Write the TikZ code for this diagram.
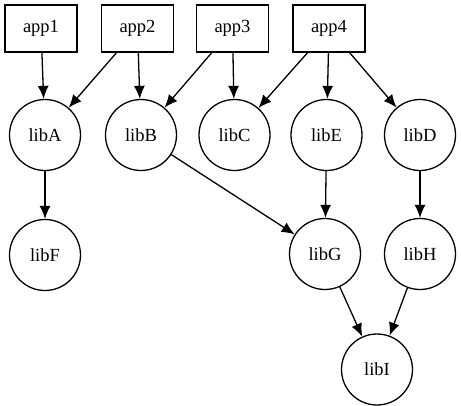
\documentclass[tikz,border=0pt]{standalone}
\usepackage{fontspec}
\setmainfont{Liberation Serif}
\usetikzlibrary{positioning, arrows.meta}

\begin{document}
\begin{tikzpicture}[x=1pt, y=-1pt,
   app/.style={draw, rectangle, minimum width=72pt, minimum height=47pt, inner sep=0pt},
   lib/.style={draw, circle, minimum size=71pt, inner sep=0pt},
   dep/.style={-{Latex[length=13pt, width=11pt]}},
   every node/.style={font=\fontsize{18.5}{20}\selectfont, line width=1.3pt},
   line width=1.3pt]
\useasboundingbox (0,0) rectangle (461,405);
% applications
\node[app] (app1) at (41,28.5) {app1};
\node[app] (app2) at (137.5,28.5) {app2};
\node[app] (app3) at (232.5,28.5) {app3};
\node[app] (app4) at (329,28.5) {app4};
% libraries
\node[lib] (libA) at (45,135) {libA};
\node[lib] (libB) at (141,135) {libB};
\node[lib] (libC) at (234.5,135) {libC};
\node[lib] (libE) at (326.5,135) {libE};
\node[lib] (libD) at (420,135) {libD};
\node[lib] (libF) at (45,255) {libF};
\node[lib] (libG) at (325,254) {libG};
\node[lib] (libH) at (420,254) {libH};
\node[lib] (libI) at (377,369.5) {libI};
% dependencies
\foreach \a/\b in {app1/libA, app2/libA, app2/libB, app3/libB, app3/libC,
                   app4/libC, app4/libE, app4/libD, libA/libF, libB/libG,
                   libE/libG, libD/libH, libG/libI, libH/libI}
   \draw[dep] (\a) -- (\b);
\end{tikzpicture}
\end{document}
